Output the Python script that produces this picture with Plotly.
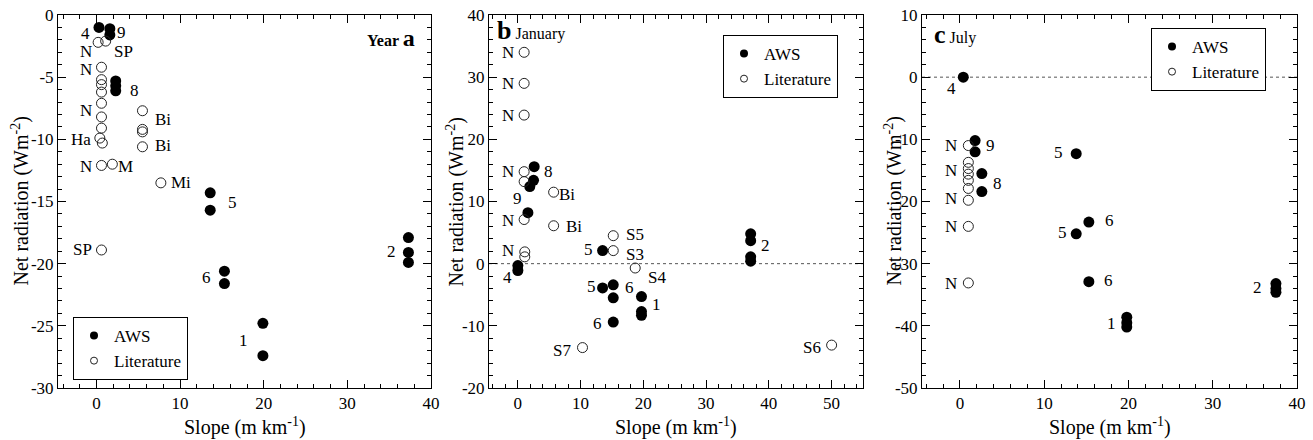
import plotly.graph_objects as go

# ---------------- data ----------------
# Panel a (Year)
a_aws_x = [0.3, 1.6, 1.6, 2.3, 2.3, 2.3, 13.6, 13.6, 15.3, 15.3, 19.9, 19.9, 37.3, 37.3, 37.3]
a_aws_y = [-1.0, -1.1, -1.6, -5.3, -5.7, -6.1, -14.3, -15.7, -20.6, -21.6, -24.8, -27.4, -17.9, -19.1, -19.9]
a_lit_x = [0.2, 1.1, 0.6, 0.6, 0.6, 0.6, 0.6, 0.6, 0.6, 0.4, 0.7, 0.6, 1.9, 5.5, 5.5, 5.5, 5.5, 7.7, 0.6]
a_lit_y = [-2.2, -2.1, -4.2, -5.2, -5.6, -6.2, -7.1, -8.2, -9.1, -9.9, -10.3, -12.1, -12.0,
           -7.7, -9.2, -9.4, -10.6, -13.5, -18.9]
a_lab_text = ["4", "9", "N", "SP", "N", "8", "N", "Bi", "Ha", "Bi", "N", "M", "Mi", "5", "SP", "6", "1", "2"]
a_lab_x = [-1.3, 3.0, -1.2, 3.2, -1.2, 4.6, -1.2, 7.9, -1.8, 7.9, -1.2, 3.5, 10.1, 16.3, -1.7, 13.2, 17.6, 35.3]
a_lab_y = [-1.45, -1.4, -2.9, -2.9, -4.4, -6.1, -7.7, -8.4, -10.0, -10.5, -12.2, -12.2, -13.5, -15.1,
           -18.9, -21.1, -26.2, -19.0]

# Panel b (January)
b_aws_x = [2.6, 2.5, 1.9, 1.6, 0.0, 0.0, 13.5, 13.5, 15.2, 15.2, 15.2, 19.7, 19.7, 19.7, 37.1, 37.1, 37.1, 37.1]
b_aws_y = [15.6, 13.4, 12.4, 8.2, -0.3, -1.1, 2.1, -3.9, -3.4, -5.5, -9.4, -5.3, -7.7, -8.3, 4.8, 3.7, 1.1, 0.4]
b_lit_x = [1.0, 1.0, 1.0, 1.0, 1.0, 1.0, 1.1, 1.1, 5.7, 5.7, 15.2, 15.2, 18.7, 10.3, 50.0]
b_lit_y = [34.0, 29.0, 23.9, 14.8, 13.2, 7.1, 1.9, 1.1, 11.5, 6.1, 4.5, 2.1, -0.7, -13.5, -13.1]
b_lab_text = ["N", "N", "N", "N", "8", "9", "Bi", "N", "Bi", "N", "4", "5", "S5", "S3", "S4",
              "5", "6", "1", "6", "2", "S7", "S6"]
b_lab_x = [-1.6, -1.6, -1.6, -1.6, 4.9, 0.0, 7.9, -1.6, 9.0, -1.6, -1.6, 11.3, 18.6, 18.6, 22.2,
           11.7, 17.8, 22.1, 12.7, 39.5, 7.0, 46.8]
b_lab_y = [34.0, 29.0, 23.9, 14.8, 14.8, 10.5, 11.1, 6.9, 6.0, 2.1, -2.3, 2.3, 4.7, 1.5, -2.3,
           -3.7, -3.9, -6.5, -9.7, 2.9, -13.9, -13.5]

# Panel c (July)
c_aws_x = [0.4, 1.8, 1.8, 2.6, 2.6, 13.8, 13.8, 15.3, 15.3, 19.8, 19.8, 19.8, 37.5, 37.5, 37.5]
c_aws_y = [0.0, -10.2, -12.0, -15.5, -18.4, -12.3, -25.2, -23.3, -32.9, -38.6, -39.5, -40.2, -33.2, -34.0, -34.6]
c_lit_x = [1.0, 1.0, 1.0, 1.0, 1.0, 1.0, 1.0, 1.0, 1.0]
c_lit_y = [-11.0, -13.7, -14.7, -15.6, -16.6, -17.9, -19.8, -24.0, -33.1]
c_lab_text = ["4", "N", "9", "N", "8", "N", "5", "N", "5", "6", "N", "6", "1", "2"]
c_lab_x = [-1.0, -1.0, 3.6, -1.0, 4.5, -1.0, 11.7, -1.0, 12.2, 17.7, -1.0, 17.6, 18.0, 35.3]
c_lab_y = [-1.8, -11.0, -11.0, -15.0, -17.1, -19.5, -12.1, -24.1, -25.0, -23.0, -33.2, -32.7, -39.7, -33.9]

x_ticks_40 = [0, 10, 20, 30, 40]
x_ticks_50 = [0, 10, 20, 30, 40, 50]
a_yticks = [0, -5, -10, -15, -20, -25, -30]
b_yticks = [40, 30, 20, 10, 0, -10, -20]
c_yticks = [10, 0, -10, -20, -30, -40, -50]

FONT = "Liberation Serif"
W, H = 1313, 440
MT, MB = 15, 52


def txt(v):
    return [("-" + str(abs(t))) if t < 0 else str(t) for t in v]


def axis(rng, tickvals, minor_dtick, domain, anchor):
    return dict(
        range=rng, domain=domain, anchor=anchor,
        showline=True, linecolor="black", linewidth=1, mirror="allticks",
        ticks="inside", ticklen=8, tickwidth=1.3, tickcolor="black",
        tickmode="array", tickvals=tickvals, ticktext=txt(tickvals),
        showgrid=False, zeroline=False,
        minor=dict(tickmode="linear", tick0=0, dtick=minor_dtick,
                   ticks="inside", ticklen=4, tickwidth=1, tickcolor="black", showgrid=False),
        tickfont=dict(family=FONT, size=17, color="black"),
    )


fig = go.Figure()

panels = [
    ("", "legend", a_aws_x, a_aws_y, a_lit_x, a_lit_y, a_lab_text, a_lab_x, a_lab_y),
    ("2", "legend2", b_aws_x, b_aws_y, b_lit_x, b_lit_y, b_lab_text, b_lab_x, b_lab_y),
    ("3", "legend3", c_aws_x, c_aws_y, c_lit_x, c_lit_y, c_lab_text, c_lab_x, c_lab_y),
]

annotations = []
for suf, leg, ax_, ay_, lx_, ly_, lt, lxx, lyy in panels:
    fig.add_trace(go.Scatter(
        x=ax_, y=ay_, mode="markers", name="AWS", showlegend=False,
        xaxis="x" + suf, yaxis="y" + suf,
        marker=dict(symbol="circle", size=11, color="black", line=dict(width=0)),
    ))
    fig.add_trace(go.Scatter(
        x=lx_, y=ly_, mode="markers", name="Literature", showlegend=False,
        xaxis="x" + suf, yaxis="y" + suf,
        marker=dict(symbol="circle-open", size=10, color="#222", line=dict(width=1)),
    ))
    # legend entries (smaller symbols as in the reference legend)
    fig.add_trace(go.Scatter(
        x=[None], y=[None], mode="markers", name="AWS", legend=leg,
        xaxis="x" + suf, yaxis="y" + suf,
        marker=dict(symbol="circle", size=8, color="black", line=dict(width=0)),
    ))
    fig.add_trace(go.Scatter(
        x=[None], y=[None], mode="markers", name="Literature", legend=leg,
        xaxis="x" + suf, yaxis="y" + suf,
        marker=dict(symbol="circle-open", size=7, color="#222", line=dict(width=1)),
    ))
    for t, xx, yy in zip(lt, lxx, lyy):
        annotations.append(dict(
            x=xx, y=yy, xref="x" + suf, yref="y" + suf, text=t, showarrow=False,
            xanchor="center", yanchor="middle",
            font=dict(family=FONT, size=17, color="black"),
        ))

# panel titles
annotations.append(dict(x=38.3, y=-1.85, xref="x", yref="y", text="<b>Year <span style='font-size:24px'>a</span></b>",
                        showarrow=False, xanchor="right", yanchor="middle",
                        font=dict(family=FONT, size=16, color="black")))
annotations.append(dict(x=-3.6, y=37.5, xref="x2", yref="y2", text="<b><span style='font-size:26px'>b</span></b> January",
                        showarrow=False, xanchor="left", yanchor="middle",
                        font=dict(family=FONT, size=16, color="black")))
annotations.append(dict(x=-3.3, y=6.8, xref="x3", yref="y3", text="<b><span style='font-size:26px'>c</span></b> July",
                        showarrow=False, xanchor="left", yanchor="middle",
                        font=dict(family=FONT, size=16, color="black")))

# axis titles
dom_a = [58 / W, 431 / W]
dom_b = [489 / W, 863 / W]
dom_c = [922 / W, 1297 / W]
for dom, ylab_x in [(dom_a, 20), (dom_b, 455), (dom_c, 893)]:
    annotations.append(dict(x=(dom[0] + dom[1]) / 2, y=-0.102, xref="paper", yref="paper",
                            text="Slope (m km<sup>-1</sup>)", showarrow=False,
                            xanchor="center", yanchor="middle",
                            font=dict(family=FONT, size=20, color="black")))
    annotations.append(dict(x=ylab_x / W, y=0.5, xref="paper", yref="paper",
                            text="Net radiation (Wm<sup>-2</sup>)", showarrow=False, textangle=-90,
                            xanchor="center", yanchor="middle",
                            font=dict(family=FONT, size=20, color="black")))

shapes = [
    dict(type="line", xref="x2 domain", yref="y2", x0=0, x1=1, y0=0, y1=0,
         line=dict(color="#555", width=1, dash="dot"), layer="below"),
    dict(type="line", xref="x3 domain", yref="y3", x0=0, x1=1, y0=0, y1=0,
         line=dict(color="#555", width=1, dash="dot"), layer="below"),
]

leg_style = dict(bgcolor="white", bordercolor="black", borderwidth=1,
                 font=dict(family=FONT, size=17, color="black"),
                 xanchor="left", yanchor="top", tracegroupgap=0, itemwidth=30)

fig.update_layout(
    template="none",
    width=W, height=H,
    margin=dict(l=0, r=0, t=MT, b=MB),
    paper_bgcolor="white", plot_bgcolor="white",
    font=dict(family=FONT, color="black"),
    showlegend=True,
    xaxis=axis([-4.6, 40], x_ticks_40, 2, dom_a, "y"),
    yaxis=axis([-30, 0], a_yticks, 1, [0, 1], "x"),
    xaxis2=axis([-4.6, 55], x_ticks_50, 2, dom_b, "y2"),
    yaxis2=axis([-20, 40], b_yticks, 2, [0, 1], "x2"),
    xaxis3=axis([-4.5, 40], x_ticks_40, 2, dom_c, "y3"),
    yaxis3=axis([-50, 10], c_yticks, 2, [0, 1], "x3"),
    legend=dict(x=73 / W, y=(388 - 317) / 373, **leg_style),
    legend2=dict(x=723 / W, y=(388 - 35) / 373, **leg_style),
    legend3=dict(x=1151 / W, y=(388 - 28) / 373, **leg_style),
    annotations=annotations,
    shapes=shapes,
)

fig.write_html("out.html")
